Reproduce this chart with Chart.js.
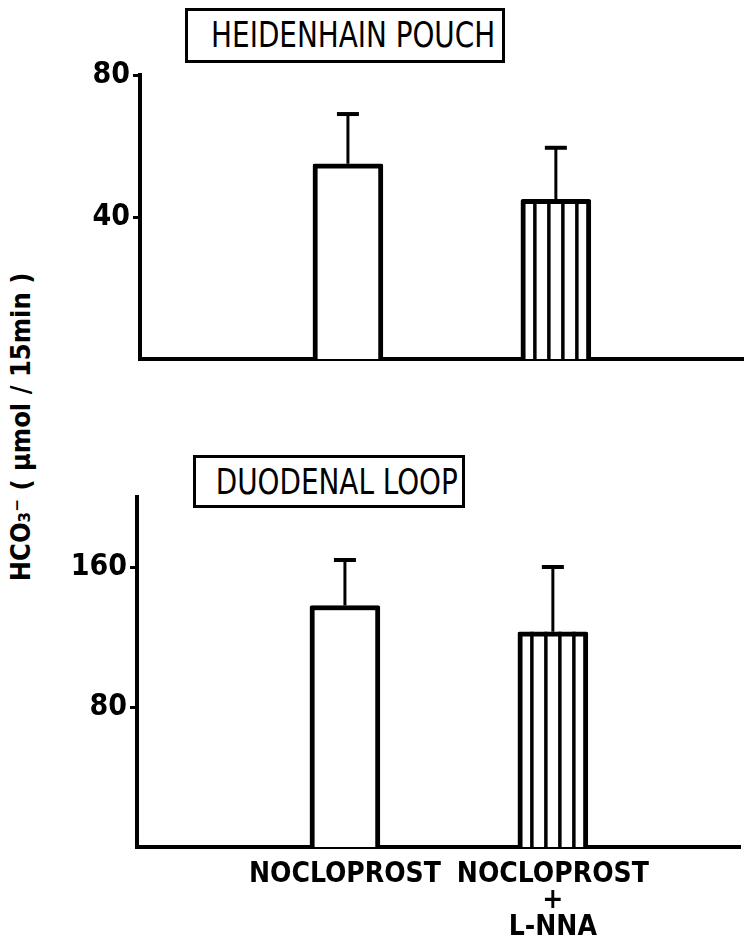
<!DOCTYPE html>
<html>
<head>
<meta charset="utf-8">
<script src="https://cdn.jsdelivr.net/npm/chart.js@4"></script>
<style>
    body { margin: 0; background: #fff; width: 756px; height: 935px; position: relative; overflow: hidden; }
    canvas { position: absolute; left: 0; }
    .caja {
        position: absolute; box-sizing: border-box; border: 3px solid #000;
        font-family: "DejaVu Sans Condensed", "DejaVu Sans"; font-size: 36px; color: #000;
        text-align: center; white-space: nowrap; line-height: 48px;
    }
    .caja span { display: inline-block; transform: scaleX(0.86); }
    #titulo-y {
        position: absolute; left: -148px; top: 410px; width: 340px; height: 34px;
        font-family: "DejaVu Sans Condensed", "DejaVu Sans"; font-size: 27px; font-weight: bold; color: #000;
        text-align: center; white-space: nowrap; transform: rotate(-90deg);
    }
</style>
</head>
<body>
<div class="caja" style="left:185px; top:8px; width:320px; height:55px;"><span>HEIDENHAIN POUCH</span></div>
<div class="caja" style="left:193px; top:455px; width:272px; height:53px;"><span>DUODENAL LOOP</span></div>
<div id="titulo-y">HCO₃⁻ ( µmol / 15min )</div>
<canvas id="chart-pouch" width="756" height="400" style="top:0"></canvas>
<canvas id="chart-loop" width="756" height="535" style="top:400px"></canvas>
<script>
// Datos
var categories = ['NOCLOPROST', ['NOCLOPROST', '+', 'L-NNA']];
var categoryIndex = [1, 2];

var pouchMeans = [55, 45];
var pouchSem = [14, 14.5];
var pouchTicks = [40, 80];

var loopMeans = [138, 123];
var loopSem = [26, 37];
var loopTicks = [80, 160];

var FONT = '"DejaVu Sans Condensed", "DejaVu Sans"';

// Barras de error (solo hacia arriba) y rayado vertical de la segunda barra
var errorBarsPlugin = {
    id: 'errorBars',
    afterDatasetsDraw: function (chart) {
        var ctx = chart.ctx;
        var yScale = chart.scales.y;
        var ds = chart.data.datasets[0];
        var meta = chart.getDatasetMeta(0);
        ctx.save();
        ctx.strokeStyle = '#000';
        meta.data.forEach(function (bar, i) {
            var left = bar.x - bar.width / 2;
            if (i === 1) {
                ctx.lineWidth = 3.5;
                for (var k = 1; k < 5; k++) {
                    var xx = left + k * bar.width / 5;
                    ctx.beginPath();
                    ctx.moveTo(xx, bar.y);
                    ctx.lineTo(xx, bar.base);
                    ctx.stroke();
                }
            }
            var yTop = yScale.getPixelForValue(ds.means[i] + ds.sem[i]);
            ctx.lineWidth = 3;
            ctx.beginPath();
            ctx.moveTo(bar.x, bar.y);
            ctx.lineTo(bar.x, yTop);
            ctx.stroke();
            ctx.lineWidth = 4;
            ctx.beginPath();
            ctx.moveTo(bar.x - 11, yTop);
            ctx.lineTo(bar.x + 11, yTop);
            ctx.stroke();
        });
        ctx.restore();
    }
};

function buildChart(canvasId, means, sem, ticks, yMax, opts) {
    var data = means.map(function (v, i) { return { x: categoryIndex[i], y: v }; });
    return new Chart(document.getElementById(canvasId), {
        type: 'bar',
        data: {
            datasets: [{
                data: data,
                means: means,
                sem: sem,
                backgroundColor: '#fff',
                borderColor: '#000',
                borderWidth: 5,
                borderRadius: 2,
                barThickness: 70
            }]
        },
        options: {
            responsive: false,
            animation: false,
            devicePixelRatio: 1,
            layout: { padding: { top: opts.top, right: opts.right, left: 0, bottom: 0 } },
            plugins: { legend: { display: false }, tooltip: { enabled: false } },
            scales: {
                x: {
                    type: 'linear',
                    min: 0,
                    max: 2.9,
                    offset: false,
                    afterBuildTicks: function (s) {
                        s.ticks = categoryIndex.map(function (v) { return { value: v }; });
                    },
                    afterFit: function (s) { s.height = opts.xHeight; },
                    grid: { display: false, offset: false },
                    border: { display: true, color: '#000', width: 4 },
                    ticks: {
                        display: opts.showLabels,
                        autoSkip: false,
                        maxRotation: 0,
                        padding: 6,
                        color: '#000',
                        font: { family: FONT, size: 28, weight: 'bold', lineHeight: 0.95 },
                        callback: function (v) { return categories[v - 1]; }
                    }
                },
                y: {
                    min: 0,
                    max: yMax,
                    afterBuildTicks: function (s) {
                        s.ticks = ticks.map(function (v) { return { value: v }; });
                    },
                    afterFit: function (s) { s.width = opts.yWidth; },
                    grid: { drawOnChartArea: false, color: '#000', lineWidth: 3, tickLength: 7 },
                    border: { color: '#000', width: 4 },
                    ticks: { color: '#000', padding: 3, font: { family: FONT, size: 30, weight: 'bold' } }
                }
            }
        },
        plugins: [errorBarsPlugin]
    });
}

// Grafica superior: Heidenhain pouch
buildChart('chart-pouch', pouchMeans, pouchSem, pouchTicks, 80,
    { top: 75, right: 13, xHeight: 41, yWidth: 140, showLabels: false });

// Grafica inferior: duodenal loop
buildChart('chart-loop', loopMeans, loopSem, loopTicks, 200,
    { top: 97, right: 16, xHeight: 88, yWidth: 137, showLabels: true });
</script>
</body>
</html>
